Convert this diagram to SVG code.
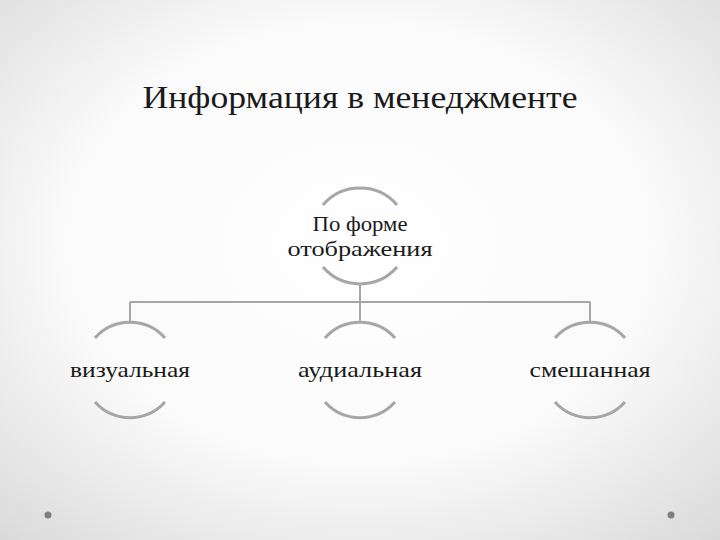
<svg xmlns="http://www.w3.org/2000/svg" width="720" height="540" viewBox="0 0 720 540">
<defs>
<radialGradient id="bg" cx="0.5" cy="0.45" r="0.75">
<stop offset="0" stop-color="#ffffff"/><stop offset="0.55" stop-color="#fafafa"/><stop offset="1" stop-color="#d9d9d9"/>
</radialGradient>
<style>
.arc{fill:none;stroke:#a6a6a6;stroke-width:3}
.ln{fill:none;stroke:#a6a6a6;stroke-width:2}
.t{font-family:"Liberation Serif","DejaVu Serif",serif;fill:#1a1a1a;text-anchor:middle}
.dot{fill:#7f7f7f}
</style>
</defs>
<rect width="720" height="540" fill="url(#bg)"/>
<circle class="dot" cx="48" cy="515" r="3.5"/>
<circle class="dot" cx="671" cy="515" r="3.5"/>
<text class="t" x="360" y="108" font-size="31" textLength="435" lengthAdjust="spacingAndGlyphs">Информация в менеджменте</text>
<g id="connectors">
<path class="ln" d="M360 285V323M130 302H590M130 302V323M590 302V323"/>
</g>
<g id="root">
<path class="arc" d="M323 205A49 49 0 0 1 397 205M323 267A49 49 0 0 0 397 267"/>
<text class="t" x="360" y="231" font-size="21" textLength="95" lengthAdjust="spacingAndGlyphs">По форме</text>
<text class="t" x="360" y="256" font-size="21" textLength="145" lengthAdjust="spacingAndGlyphs">отображения</text>
</g>
<g id="n1">
<path class="arc" d="M95 338A47 47 0 0 1 165 338M95 402A47 47 0 0 0 165 402"/>
<text class="t" x="130" y="377" font-size="21" textLength="120" lengthAdjust="spacingAndGlyphs">визуальная</text>
</g>
<g id="n2">
<path class="arc" d="M325 338A47 47 0 0 1 395 338M325 402A47 47 0 0 0 395 402"/>
<text class="t" x="360" y="377" font-size="21" textLength="124" lengthAdjust="spacingAndGlyphs">аудиальная</text>
</g>
<g id="n3">
<path class="arc" d="M555 338A47 47 0 0 1 625 338M555 402A47 47 0 0 0 625 402"/>
<text class="t" x="590" y="377" font-size="21" textLength="121" lengthAdjust="spacingAndGlyphs">смешанная</text>
</g>
</svg>
